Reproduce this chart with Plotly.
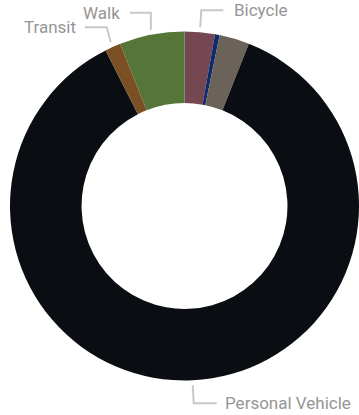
import numpy as np
import plotly.graph_objects as go

# commute mode share (%), clockwise from 12 o'clock
modes = ["Bicycle", "Other", "Work at Home", "Personal Vehicle", "Transit", "Walk"]
shares = [2.8, 0.43, 2.78, 86.5, 1.47, 6.0]
colors = ["#744753", "#0F2A6A", "#6B6259", "#0A0D12", "#7B5024", "#557638"]
labeled = ["Bicycle", "Walk", "Transit", "Personal Vehicle"]

W, H = 359, 415
CX, CY, R = 184.5, 206, 174.5

fig = go.Figure()
fig.add_trace(go.Pie(
    labels=modes,
    values=shares,
    hole=0.59,
    sort=False,
    direction="clockwise",
    rotation=0,
    textinfo="none",
    hoverinfo="label+percent",
    marker=dict(colors=colors, line=dict(width=0)),
    domain=dict(x=[(CX - R) / W, (CX + R) / W],
                y=[1 - (CY + R) / H, 1 - (CY - R) / H]),
))


def px(x, y):
    return x / W, 1 - y / H


# mid angle of each slice (deg clockwise from top)
total = sum(shares)
cum = np.cumsum([0] + shares)
mid = {m: (cum[i] + shares[i] / 2) / total * 360 for i, m in enumerate(modes)}

# leader line elbows: (dx, dy) to elbow, horizontal run, text side, gap
elbows = {
    "Bicycle": ((1, -17), 22, "left", 9),
    "Walk": ((0, -17), -21, "right", 8),
    "Transit": ((-4, -15), -22, "right", 7),
    "Personal Vehicle": ((1, 18), 23, "left", 6),
}

shapes = []
annotations = []
for m in labeled:
    a = np.radians(mid[m])
    x0 = CX + (R + 5) * np.sin(a)
    y0 = CY - (R + 5) * np.cos(a)
    (dx, dy), run, side, gap = elbows[m]
    x1, y1 = x0 + dx, y0 + dy
    x2 = x1 + run
    pts = [px(x0, y0), px(x1, y1), px(x2, y1)]
    path = "M {} {} L {} {} L {} {}".format(*[v for p in pts for v in p])
    shapes.append(dict(type="path", path=path, xref="paper", yref="paper",
                       line=dict(color="#C8C8C8", width=2)))
    tx = x2 + (gap if side == "left" else -gap)
    annotations.append(dict(
        x=tx / W, y=1 - y1 / H, xref="paper", yref="paper",
        text=m, showarrow=False,
        xanchor=side, yanchor="middle",
        font=dict(family="Roboto", size=17, color="#959595"),
    ))

fig.update_layout(
    width=W,
    height=H,
    margin=dict(l=0, r=0, t=0, b=0),
    paper_bgcolor="white",
    showlegend=False,
    shapes=shapes,
    annotations=annotations,
)

# drop the browser's default 8px body margin so the chart fills the window
fig.write_html("out.html", config={"displayModeBar": False},
               post_script="document.body.style.margin='0';")
